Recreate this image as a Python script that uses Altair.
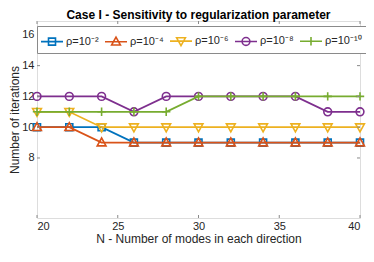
import altair as alt
import pandas as pd

# ---- data ----
N = [20, 22, 24, 26, 28, 30, 32, 34, 36, 38, 40]
rho_1e2 = [10, 10, 10, 9, 9, 9, 9, 9, 9, 9, 9]
rho_1e4 = [10, 10, 9, 9, 9, 9, 9, 9, 9, 9, 9]
rho_1e6 = [11, 11, 10, 10, 10, 10, 10, 10, 10, 10, 10]
rho_1e8 = [12, 12, 12, 11, 12, 12, 12, 12, 12, 11, 11]
rho_1e10 = [11, 11, 11, 11, 11, 12, 12, 12, 12, 12, 12]

labels = ["ρ=10⁻²", "ρ=10⁻⁴", "ρ=10⁻⁶", "ρ=10⁻⁸", "ρ=10⁻¹⁰"]
series_values = [rho_1e2, rho_1e4, rho_1e6, rho_1e8, rho_1e10]
colors = ["#0072BD", "#D95319", "#EDB120", "#7E2F8E", "#77AC30"]

x_ticks = [20, 25, 30, 35, 40]
y_ticks = [8, 10, 12, 14, 16]
title_text = ["Case I - Sensitivity to regularization parameter"]

# ---- styles ----
FONT = "Liberation Sans"
TXT = "#262626"
FRAME = "#8a8a8a"
W, H = 323, 197

# marker paths in pixel units (used with size=4 -> scale factor 1)
marker_paths = [
    "M-3.5,-3.5H3.5V3.5H-3.5Z",
    "M0,-4.6L4.4,3.3H-4.4Z",
    "M0,4.6L4.4,-3.3H-4.4Z",
    "M-3.9,0A3.9,3.9,0,1,0,3.9,0A3.9,3.9,0,1,0,-3.9,0",
    "M-4.2,0H4.2M0,-4.2V4.2",
]
# legend symbol paths in units of 10px (legend symbol size 400 -> factor 10)
u = 10.0
def sc(v):
    return f"{v / u:.3f}"
leg_line = "M-1.1,0H1.1"
legend_paths = [
    leg_line + f"M{sc(-3.5)},{sc(-3.5)}H{sc(3.5)}V{sc(3.5)}H{sc(-3.5)}Z",
    leg_line + f"M0,{sc(-4.6)}L{sc(4.4)},{sc(3.3)}H{sc(-4.4)}Z",
    leg_line + f"M0,{sc(4.6)}L{sc(4.4)},{sc(-3.3)}H{sc(-4.4)}Z",
    leg_line + f"M{sc(-3.9)},0A{sc(3.9)},{sc(3.9)},0,1,0,{sc(3.9)},0A{sc(3.9)},{sc(3.9)},0,1,0,{sc(-3.9)},0",
    leg_line + f"M{sc(-4.2)},0H{sc(4.2)}M0,{sc(-4.2)}V{sc(4.2)}",
]

rows = []
for lab, vals in zip(labels, series_values):
    for n, v in zip(N, vals):
        rows.append({"N": n, "iters": v, "series": lab})
df = pd.DataFrame(rows)

xscale = alt.Scale(domain=[20, 40], nice=False, zero=False)
yscale = alt.Scale(domain=[4.1, 16.9], nice=False, zero=False)
common_axis = dict(grid=False, ticks=False, domain=False,
                   titleFontWeight="normal", titleFontSize=12,
                   labelFontSize=11, labelFont=FONT, titleFont=FONT,
                   labelColor=TXT, titleColor=TXT)
xaxis = alt.Axis(values=x_ticks, title="N - Number of modes in each direction",
                 labelPadding=2, titlePadding=2, **common_axis)
yaxis = alt.Axis(values=y_ticks, title="Number of iterations",
                 labelPadding=3, titlePadding=0, **common_axis)

X = alt.X("N:Q", scale=xscale, axis=xaxis)
Y = alt.Y("iters:Q", scale=yscale, axis=yaxis)

layers = []
for lab, col, mp in zip(labels, colors, marker_paths):
    base = alt.Chart(df).transform_filter(alt.datum.series == lab)
    layers.append(base.mark_line(color=col, strokeWidth=1.8).encode(x=X, y=Y))
    layers.append(base.mark_point(shape=mp, size=4, filled=False, color=col,
                                  strokeWidth=1.6, opacity=1).encode(x=X, y=Y))

legend = alt.Legend(
    title=None, orient="none", legendX=0, legendY=5, direction="horizontal",
    columns=5, symbolSize=400, symbolStrokeWidth=1.6, symbolType="circle",
    labelFont=FONT, labelFontSize=11, labelColor=TXT, labelOffset=3,
    columnPadding=2, padding=4, strokeColor=FRAME, fillColor="white",
    cornerRadius=0, symbolFillColor="transparent", symbolOpacity=1,
)
leg_layer = (
    alt.Chart(df)
    .transform_filter("false")
    .mark_point(filled=False, strokeWidth=1.6, opacity=1)
    .encode(
        color=alt.Color("series:N", scale=alt.Scale(domain=labels, range=colors), legend=legend),
        shape=alt.Shape("series:N", scale=alt.Scale(domain=labels, range=legend_paths), legend=legend),
    )
)
layers.append(leg_layer)

# inward tick marks on all four sides (box on)
xt = pd.DataFrame({"N": x_ticks})
yt = pd.DataFrame({"iters": y_ticks})
tick_style = dict(color=FRAME, strokeWidth=1)
layers.append(alt.Chart(xt).mark_rule(**tick_style).encode(x=X, y=alt.value(H), y2=alt.value(H - 3)))
layers.append(alt.Chart(xt).mark_rule(**tick_style).encode(x=X, y=alt.value(0), y2=alt.value(3)))
layers.append(alt.Chart(yt).mark_rule(**tick_style).encode(y=Y, x=alt.value(0), x2=alt.value(3)))
layers.append(alt.Chart(yt).mark_rule(**tick_style).encode(y=Y, x=alt.value(W), x2=alt.value(W - 3)))

# chart title drawn as a text mark above the plot frame
layers.append(
    alt.Chart(pd.DataFrame({"t": title_text}))
    .mark_text(font=FONT, fontSize=12, fontWeight="bold", color="black",
               align="center", baseline="alphabetic")
    .encode(text="t:N", x=alt.value(W / 2), y=alt.value(-2))
)

chart = (
    alt.layer(*layers)
    .properties(
        width=W, height=H,
        autosize=alt.AutoSizeParams(type="none"),
        padding={"left": 29, "top": 13, "right": 6, "bottom": 32},
    )
    .configure_view(stroke=FRAME, strokeWidth=1)
    .configure(background="white")
)

chart.save("out.html", embed_options={"renderer": "svg", "actions": False})
